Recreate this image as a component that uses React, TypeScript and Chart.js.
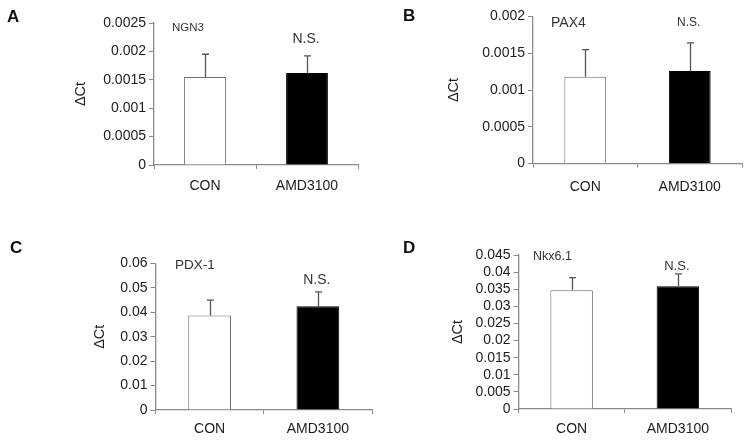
import React, { useEffect, useRef } from "react";
import { Chart, registerables } from "chart.js";

Chart.register(...registerables);

// ---- data ----
const categories = ["CON", "AMD3100"];

const ngn3Values = [0.00155, 0.00162];
const ngn3Errors = [0.0004, 0.0003];
const ngn3Ticks = [0, 0.0005, 0.001, 0.0015, 0.002, 0.0025];
const ngn3TickLabels = ["0", "0.0005", "0.001", "0.0015", "0.002", "0.0025"];

const pax4Values = [0.00118, 0.00126];
const pax4Errors = [0.00037, 0.00038];
const pax4Ticks = [0, 0.0005, 0.001, 0.0015, 0.002];
const pax4TickLabels = ["0", "0.0005", "0.001", "0.0015", "0.002"];

const pdx1Values = [0.0387, 0.0425];
const pdx1Errors = [0.0063, 0.0059];
const pdx1Ticks = [0, 0.01, 0.02, 0.03, 0.04, 0.05, 0.06];
const pdx1TickLabels = ["0", "0.01", "0.02", "0.03", "0.04", "0.05", "0.06"];

const nkxValues = [0.0347, 0.0359];
const nkxErrors = [0.0037, 0.0036];
const nkxTicks = [0, 0.005, 0.01, 0.015, 0.02, 0.025, 0.03, 0.035, 0.04, 0.045];
const nkxTickLabels = ["0", "0.005", "0.01", "0.015", "0.02", "0.025", "0.03", "0.035", "0.04", "0.045"];

const panelLetters = ["A", "B", "C", "D"];
const geneNames = ["NGN3", "PAX4", "PDX-1", "Nkx6.1"];
const sigLabel = "N.S.";
const yTitle = "ΔCt";

// ---- layout (styles only) ----
type Panel = {
  letter: string;
  gene: string;
  values: number[];
  errors: number[];
  ticks: number[];
  tickLabels: string[];
  left: number; top: number; width: number; height: number;
  area: { x0: number; x1: number; y0: number; y1: number };
  titlePad: number;
  xLabelPad: number;
  barPct: number;
  letterPos: [number, number];
  genePos: [number, number];
  geneSize: number;
  nsGap: number;
  nsSize: number;
};

const panels: Panel[] = [
  {
    letter: panelLetters[0], gene: geneNames[0], values: ngn3Values, errors: ngn3Errors,
    ticks: ngn3Ticks, tickLabels: ngn3TickLabels,
    left: 0, top: 0, width: 373, height: 220,
    area: { x0: 154, x1: 358, y0: 23, y1: 165 },
    titlePad: 72, xLabelPad: 9, barPct: 0.41,
    letterPos: [7, 22], genePos: [18, 5], geneSize: 11.5, nsGap: 17, nsSize: 14,
  },
  {
    letter: panelLetters[1], gene: geneNames[1], values: pax4Values, errors: pax4Errors,
    ticks: pax4Ticks, tickLabels: pax4TickLabels,
    left: 373, top: 0, width: 374, height: 220,
    area: { x0: 160, x1: 369, y0: 16.5, y1: 163.5 },
    titlePad: 72, xLabelPad: 11, barPct: 0.40,
    letterPos: [30, 21], genePos: [18, 6.5], geneSize: 14, nsGap: 20, nsSize: 12,
  },
  {
    letter: panelLetters[2], gene: geneNames[2], values: pdx1Values, errors: pdx1Errors,
    ticks: pdx1Ticks, tickLabels: pdx1TickLabels,
    left: 0, top: 220, width: 373, height: 220,
    area: { x0: 155.5, x1: 372, y0: 43.5, y1: 190 },
    titlePad: 91, xLabelPad: 7, barPct: 0.395,
    letterPos: [10, 33], genePos: [19.5, 1.5], geneSize: 13.5, nsGap: 12, nsSize: 14,
  },
  {
    letter: panelLetters[3], gene: geneNames[3], values: nkxValues, errors: nkxErrors,
    ticks: nkxTicks, tickLabels: nkxTickLabels,
    left: 373, top: 220, width: 374, height: 220,
    area: { x0: 145.5, x1: 358, y0: 35, y1: 189 },
    titlePad: 76, xLabelPad: 8, barPct: 0.40,
    letterPos: [30, 33], genePos: [14.5, 2], geneSize: 12.5, nsGap: 7, nsSize: 13,
  },
];

const FONT = "'Liberation Sans', Arial, sans-serif";
const AXIS = "#8a8a8a";
const TEXT = "#1c1c1c";

function makeAnnotator(p: Panel) {
  return {
    id: "annotator" + p.letter,
    afterDatasetsDraw(chart: any) {
      const ctx = chart.ctx as CanvasRenderingContext2D;
      const y = chart.scales.y;
      const area = chart.chartArea;
      const meta = chart.getDatasetMeta(0);
      ctx.save();
      // error bars
      ctx.strokeStyle = "#555";
      ctx.lineWidth = 1.3;
      let lastTop = 0;
      let lastX = 0;
      meta.data.forEach((bar: any, i: number) => {
        const top = y.getPixelForValue(p.values[i] + p.errors[i]);
        const x = Math.round(bar.x) + 0.5;
        ctx.beginPath();
        ctx.moveTo(x, bar.y);
        ctx.lineTo(x, top);
        ctx.moveTo(x - 3.5, top);
        ctx.lineTo(x + 3.5, top);
        ctx.stroke();
        lastTop = top;
        lastX = bar.x;
      });
      // N.S.
      ctx.fillStyle = "#333";
      ctx.textAlign = "center";
      ctx.textBaseline = "middle";
      ctx.font = `${p.nsSize}px ${FONT}`;
      ctx.fillText(sigLabel, lastX - 1, lastTop - p.nsGap);
      // gene name
      ctx.textAlign = "left";
      ctx.font = `${p.geneSize}px ${FONT}`;
      ctx.fillText(p.gene, area.left + p.genePos[0], area.top + p.genePos[1]);
      // panel letter
      ctx.fillStyle = "#111";
      ctx.textBaseline = "alphabetic";
      ctx.font = `bold 17px ${FONT}`;
      ctx.fillText(p.letter, p.letterPos[0], p.letterPos[1]);
      ctx.restore();
    },
  };
}

function PanelChart({ p }: { p: Panel }) {
  const ref = useRef<HTMLCanvasElement>(null);
  useEffect(() => {
    if (!ref.current) return;
    const a = p.area;
    const chart = new Chart(ref.current, {
      type: "bar",
      data: {
        labels: categories,
        datasets: [
          {
            data: p.values,
            backgroundColor: ["#ffffff", "#000000"],
            borderColor: ["#6e6e6e", "#000000"],
            borderWidth: 1,
            barPercentage: p.barPct,
            categoryPercentage: 1,
          },
        ],
      },
      options: {
        animation: false,
        responsive: false,
        devicePixelRatio: 1,
        layout: {
          padding: { left: 0, top: a.y0, right: p.width - a.x1, bottom: 0 },
        },
        plugins: { legend: { display: false }, tooltip: { enabled: false } },
        scales: {
          x: {
            type: "category",
            offset: true,
            grid: {
              display: true,
              offset: true,
              drawOnChartArea: false,
              drawTicks: true,
              tickLength: 4,
              color: AXIS,
            },
            border: { display: true, color: AXIS, width: 1.3 },
            ticks: {
              color: TEXT,
              font: { family: FONT, size: 14 },
              padding: p.xLabelPad,
              maxRotation: 0,
            },
            afterFit: (s: any) => {
              s.height = p.height - a.y1;
            },
          },
          y: {
            min: p.ticks[0],
            max: p.ticks[p.ticks.length - 1],
            grid: {
              display: true,
              drawOnChartArea: false,
              drawTicks: true,
              tickLength: 5,
              color: AXIS,
            },
            border: { display: true, color: AXIS, width: 1.3 },
            ticks: {
              color: TEXT,
              font: { family: FONT, size: 14 },
              padding: 3,
              autoSkip: false,
              callback: (_v: any, i: number) => p.tickLabels[i],
            },
            afterBuildTicks: (s: any) => {
              s.ticks = p.ticks.map((v) => ({ value: v }));
            },
            title: {
              display: true,
              text: yTitle,
              color: TEXT,
              font: { family: FONT, size: 14.5 },
              padding: { top: p.titlePad, bottom: 0 },
            },
            afterFit: (s: any) => {
              s.width = a.x0;
            },
          },
        },
      },
      plugins: [makeAnnotator(p)],
    } as any);
    return () => chart.destroy();
  }, [p]);
  return (
    <canvas
      ref={ref}
      width={p.width}
      height={p.height}
      style={{ position: "absolute", left: p.left, top: p.top, width: p.width, height: p.height }}
    />
  );
}

export default function App() {
  return (
    <div
      style={{
        position: "absolute",
        left: 0,
        top: 0,
        width: 747,
        height: 440,
        background: "#ffffff",
        overflow: "hidden",
      }}
    >
      {panels.map((p) => (
        <PanelChart key={p.letter} p={p} />
      ))}
    </div>
  );
}
